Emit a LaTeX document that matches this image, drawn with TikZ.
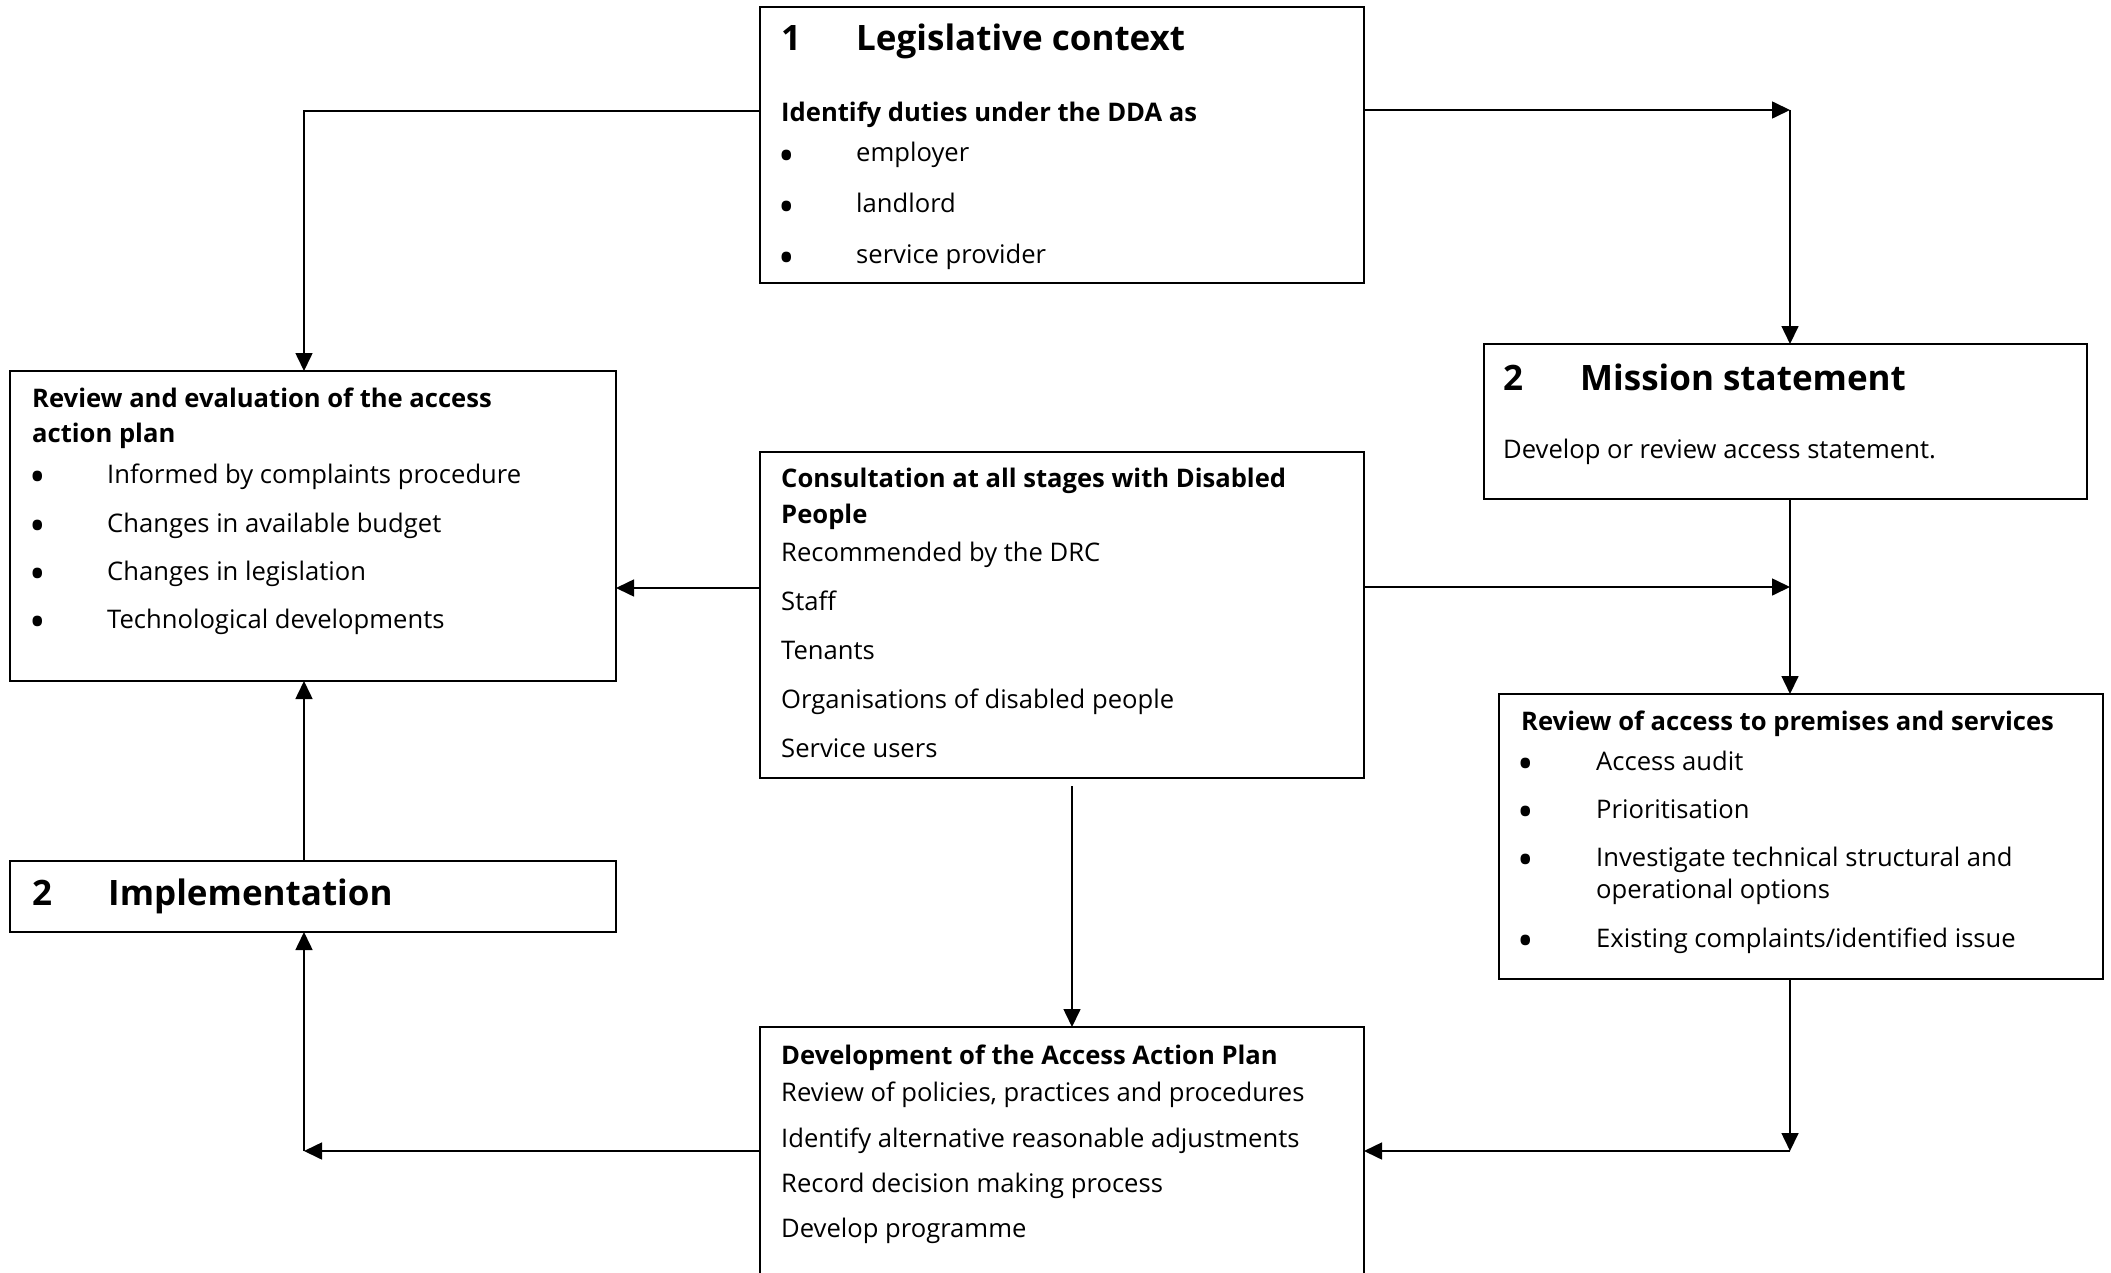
\documentclass[tikz,border=0pt]{standalone}
\usepackage{fontspec}
\setmainfont{Open Sans}
\usetikzlibrary{arrows.meta,calc}
\begin{document}
\begin{tikzpicture}[x=1pt,y=-1pt]
\tikzset{
 box/.style={draw, line width=1.6pt, anchor=north west, inner sep=0pt, outer sep=0pt},
 txt/.style={anchor=base west, inner sep=0pt, font=\fontsize{25.6}{30}\selectfont},
 txtb/.style={anchor=base west, inner sep=0pt, font=\fontsize{25.6}{30}\selectfont\bfseries},
 txth/.style={anchor=base west, inner sep=0pt, font=\fontsize{35}{40}\selectfont\bfseries},
 bul/.style={anchor=center, inner sep=0pt, yshift=1.5pt, font=\fontsize{44}{44}\selectfont},
 arr/.style={line width=1.6pt, -{Triangle[length=18pt,width=17pt]}},
}
\useasboundingbox (0,0) rectangle (2111,1273);
\clip (0,0) rectangle (2111,1273);
% boxes
\node[box, minimum width=604pt, minimum height=276pt] (b1) at (760,7) {};
\node[box, minimum width=606pt, minimum height=310pt] (rev) at (10,371) {};
\node[box, minimum width=603pt, minimum height=155pt] (mis) at (1484,344) {};
\node[box, minimum width=604pt, minimum height=326pt] (con) at (760,452) {};
\node[box, minimum width=604pt, minimum height=285pt] (acc) at (1499,694) {};
\node[box, minimum width=606pt, minimum height=71pt] (imp) at (10,861) {};
\node[box, minimum width=604pt, minimum height=300pt] (dev) at (760,1027) {};
% box 1 text
\node[txth] (b1n) at (781,51) {1};
\node[txth] (b1h) at (856,51) {Legislative context};
\node[txtb] (b1s) at (781,122) {Identify duties under the DDA as};
\node[bul] (b1b1) at (787,162) {•};
\node[txt] (b1t1) at (856,162) {employer};
\node[bul] (b1b2) at (787,213) {•};
\node[txt] (b1t2) at (856,213) {landlord};
\node[bul] (b1b3) at (787,264) {•};
\node[txt] (b1t3) at (856,264) {service provider};
% review box text
\node[txtb] (rh1) at (32,407) {Review and evaluation of the access};
\node[txtb] (rh2) at (32,442) {action plan};
\node[bul] (rb1) at (38,483) {•};
\node[txt] (rt1) at (107,483) {Informed by complaints procedure};
\node[bul] (rb2) at (38,532) {•};
\node[txt] (rt2) at (107,532) {Changes in available budget};
\node[bul] (rb3) at (38,580) {•};
\node[txt] (rt3) at (107,580) {Changes in legislation};
\node[bul] (rb4) at (38,628) {•};
\node[txt] (rt4) at (107,628) {Technological developments};
% mission
\node[txth] (mn) at (1503,390) {2};
\node[txth] (mh) at (1580,390) {Mission statement};
\node[txt] (mt) at (1503,458) {Develop or review access statement.};
% consultation
\node[txtb] (ch1) at (781,487) {Consultation at all stages with Disabled};
\node[txtb] (ch2) at (781,523) {People};
\node[txt] (ct1) at (781,561) {Recommended by the DRC};
\node[txt] (ct2) at (781,610) {Staff};
\node[txt] (ct3) at (781,659) {Tenants};
\node[txt] (ct4) at (781,708) {Organisations of disabled people};
\node[txt] (ct5) at (781,757) {Service users};
% access review
\node[txtb] (ah) at (1521,730) {Review of access to premises and services};
\node[bul] (ab1) at (1526,770) {•};
\node[txt] (at1) at (1596,770) {Access audit};
\node[bul] (ab2) at (1526,818) {•};
\node[txt] (at2) at (1596,818) {Prioritisation};
\node[bul] (ab3) at (1526,866) {•};
\node[txt] (at3) at (1596,866) {Investigate technical structural and};
\node[txt] (at3b) at (1596,898) {operational options};
\node[bul] (ab4) at (1526,947) {•};
\node[txt] (at4) at (1596,947) {Existing complaints/identified issue};
% implementation
\node[txth] (in) at (32,905) {2};
\node[txth] (ih) at (108,905) {Implementation};
% development
\node[txtb] (dh) at (781,1064) {Development of the Access Action Plan};
\node[txt] (dt1) at (781,1101) {Review of policies, practices and procedures};
\node[txt] (dt2) at (781,1147) {Identify alternative reasonable adjustments};
\node[txt] (dt3) at (781,1192) {Record decision making process};
\node[txt] (dt4) at (781,1237) {Develop programme};
% junction coordinates
\coordinate (jTL) at (304,111);
\coordinate (jTR) at (1790,110);
\coordinate (ym) at (1000,588);
\coordinate (jMR) at (1790,587);
\coordinate (jBR) at (1790,1151);
\coordinate (jBL) at (304,1151);
\coordinate (jC) at (1072,786);
% connectors
\draw[arr] (b1.west |- jTL) -- (jTL) -- (jTL |- rev.north);
\draw[arr] (b1.east |- jTR) -- (jTR);
\draw[arr] (jTR) -- (jTR |- mis.north);
\draw[arr] (con.west |- ym) -- (rev.east |- ym);
\draw[arr] (con.east |- jMR) -- (jMR);
\draw[arr] (mis.south -| jMR) -- (acc.north -| jMR);
\draw[arr] (acc.south -| jBR) -- (jBR);
\draw[arr] (jBR) -- (dev.east |- jBR);
\draw[arr] (jC) -- (dev.north -| jC);
\draw[arr] (dev.west |- jBL) -- (jBL);
\draw[arr] (jBL) -- (imp.south -| jBL);
\draw[arr] (imp.north -| jBL) -- (rev.south -| jBL);
\end{tikzpicture}
\end{document}
